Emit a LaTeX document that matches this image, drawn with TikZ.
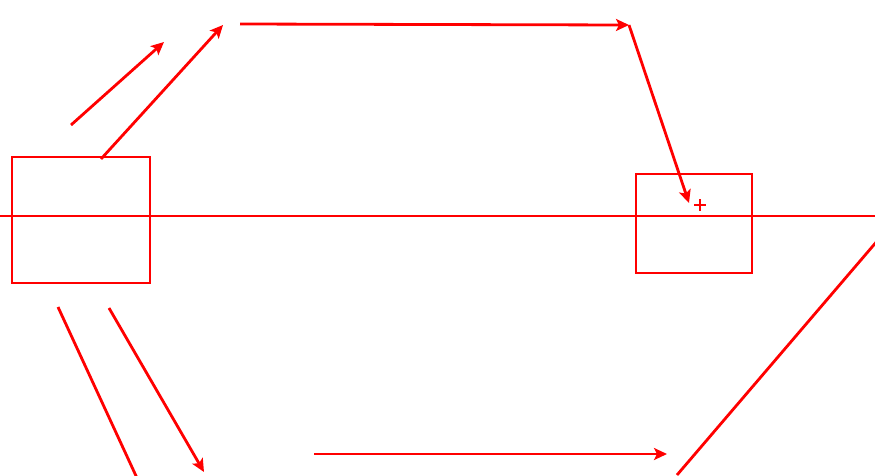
\documentclass[tikz,border=0pt]{standalone}
\usetikzlibrary{arrows.meta}
\begin{document}
\begin{tikzpicture}[x=1pt,y=-1pt,line width=2.8pt,red,
    box/.style={draw,rectangle,inner sep=0pt},
    arr/.style={-{Stealth[length=13pt,width=12pt,inset=3pt]}}]
    \useasboundingbox[fill=white] (0,0) rectangle (875,475);
    \draw[line width=2.4pt] (0,216) -- (875,216); % 中间水平线

    \node[box,minimum width=138,minimum height=126] (lbox) at (81,220) {};
    \node[box,minimum width=116,minimum height=99] (rbox) at (694,223.5) {};

    % 左上两支箭头
    \coordinate (a1) at (71,125);   \coordinate (a2) at (164,42);
    \coordinate (b1) at (101,159);  \coordinate (b2) at (223,25);
    \draw[arr] (a1) -- (a2);
    \draw[arr] (b1) -- (b2);

    % 上方横向箭头和斜向下的箭头
    \coordinate (t1) at (240,24);   \coordinate (t2) at (629,25);
    \coordinate (t3) at (689,203);
    \draw[arr] (t1) -- (t2);
    \draw[arr] (t2) -- (t3);
    \draw[line width=2.4pt] (694,205) -- (706,205) (700,199) -- (700,211); % 十字标记

    % 左下两条线
    \coordinate (c1) at (58,307);   \coordinate (c2) at (137,478);
    \coordinate (d1) at (109,308);  \coordinate (d2) at (204,472);
    \draw (c1) -- (c2);
    \draw[arr] (d1) -- (d2);

    % 下方横向箭头和右侧斜线
    \coordinate (e1) at (314,454);  \coordinate (e2) at (667,454);
    \coordinate (f1) at (878,240);  \coordinate (f2) at (677,475);
    \draw[arr] (e1) -- (e2);
    \draw (f1) -- (f2);
\end{tikzpicture}
\end{document}
